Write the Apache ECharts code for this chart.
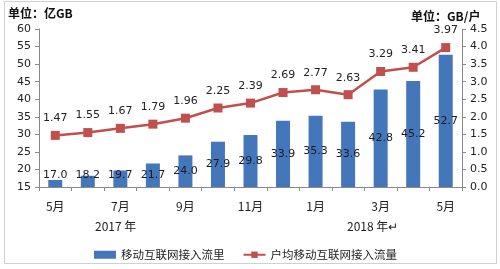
<!DOCTYPE html>
<html><head><meta charset="utf-8">
<script src="https://cdn.jsdelivr.net/npm/echarts@6/dist/echarts.min.js"></script>
<style>html,body{margin:0;padding:0;background:#fff}#c{width:500px;height:269px}</style>
</head><body><div id="c"></div>
<script>
const categories = ['5月','6月','7月','8月','9月','10月','11月','12月','1月','2月','3月','4月','5月'];
const trafficValues = [17.0,18.2,19.7,21.7,24.0,27.9,29.8,33.9,35.3,33.6,42.8,45.2,52.7];
const perUserValues = [1.47,1.55,1.67,1.79,1.96,2.25,2.39,2.69,2.77,2.63,3.29,3.41,3.97];
const seriesNames = ['移动互联网接入流里','户均移动互联网接入流量'];
const yearLabels = ['2017 年','2018 年↵'];

const chart = echarts.init(document.getElementById('c'), null, {renderer:'canvas'});
const numFont = '"DejaVu Sans", Verdana, sans-serif';
const cjk = '"Noto Sans CJK SC", sans-serif';
const barColor = '#4377b9';
const lineColor = '#c0504d';

// lift small-bar labels so they stay readable (as in the source)
const barData = trafficValues.map(v => {
  const base = 15, pxPer = 158/45;
  const mid = (v - base) * pxPer / 2;
  const off = Math.min(0, mid - 12);
  return { value: v, label: { offset: [0, off < 0 ? off : 0] } };
});

chart.setOption({
  animation: false,
  grid: { left: 39, right: 38, top: 29, bottom: 82 },
  legend: {
    left: 89, top: 244, itemWidth: 22, itemHeight: 8, itemGap: 18,
    textStyle: { fontFamily: cjk, fontSize: 11.5, color: '#222' },
    data: [{name: seriesNames[0], icon: 'rect'}, {name: seriesNames[1]}]
  },
  xAxis: {
    type: 'category', data: categories, boundaryGap: true,
    axisLine: { lineStyle: { color: '#8a8a8a' } },
    axisTick: { show: true, interval: 0, length: 4, lineStyle: { color: '#8a8a8a' } },
    axisLabel: { interval: 1, margin: 13, fontFamily: cjk, fontSize: 12, color: '#222' }
  },
  yAxis: [{
    type: 'value', min: 15, max: 60, interval: 5,
    axisLine: { show: true, lineStyle: { color: '#8a8a8a' } },
    axisTick: { show: true, length: 4, lineStyle: { color: '#8a8a8a' } },
    splitLine: { show: false },
    axisLabel: { fontFamily: numFont, fontSize: 11, color: '#222', margin: 8 }
  }, {
    type: 'value', min: 0, max: 4.5, interval: 0.5, position: 'right',
    axisLine: { show: true, lineStyle: { color: '#8a8a8a' } },
    axisTick: { show: true, length: 4, lineStyle: { color: '#8a8a8a' } },
    splitLine: { show: false },
    axisLabel: { fontFamily: numFont, fontSize: 11, color: '#222', margin: 8,
      formatter: v => v.toFixed(1) }
  }],
  graphic: [
    { type: 'rect', shape: { x: 4.5, y: 1.5, width: 492, height: 262 },
      style: { fill: 'none', stroke: '#d0d0d0', lineWidth: 1 }, silent: true },
    { type: 'text', left: 8, top: 7, style: { text: '单位：亿GB', font: 'bold 12px ' + cjk, fill: '#111' } },
    { type: 'text', left: 411, top: 10, style: { text: '单位：GB/户', font: 'bold 12px ' + cjk, fill: '#111' } },
    { type: 'text', left: 95, top: 220, style: { text: yearLabels[0], font: '12px ' + cjk, fill: '#222' } },
    { type: 'text', left: 347, top: 220, style: { text: yearLabels[1], font: '12px ' + cjk, fill: '#222' } }
  ],
  series: [{
    name: seriesNames[0], type: 'bar', yAxisIndex: 0, data: barData, barWidth: 14,
    itemStyle: { color: barColor },
    label: { show: true, position: 'inside', fontFamily: numFont, fontSize: 11, color: '#1a1a2a',
      formatter: p => p.value.toFixed(1) },
    z: 2
  }, {
    name: seriesNames[1], type: 'line', yAxisIndex: 1, data: perUserValues,
    symbol: 'rect', symbolSize: 9,
    lineStyle: { color: lineColor, width: 2.5 },
    itemStyle: { color: lineColor },
    label: { show: true, position: 'top', distance: 7, fontFamily: numFont, fontSize: 11, color: '#222',
      formatter: p => p.value.toFixed(2) },
    z: 3
  }]
});
</script></body></html>
